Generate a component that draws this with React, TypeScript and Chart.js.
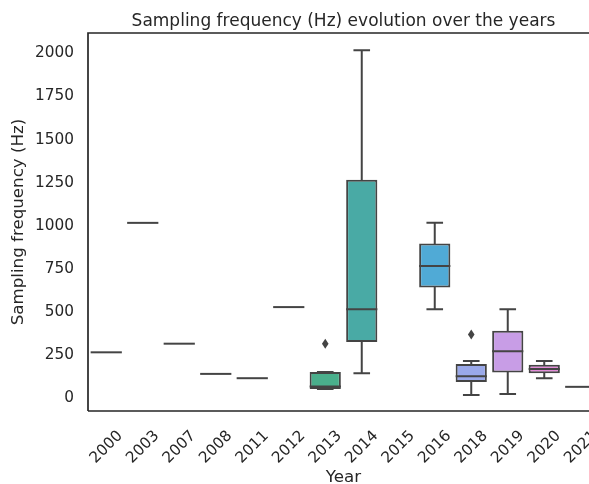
import { useEffect, useRef } from 'react';
import { Chart, registerables } from 'chart.js';

Chart.register(...registerables);

const years = ['2000', '2003', '2007', '2008', '2011', '2012', '2013', '2014', '2015', '2016', '2018', '2019', '2020', '2021'];
const whiskerLow: (number | null)[] = [250, 1000, 300, 125, 100, 512, 37, 128, null, 500, 3, 9, 100, 50];
const q1: (number | null)[] = [250, 1000, 300, 125, 100, 512, 37, 310, null, 625, 78, 133, 129, 50];
const median: (number | null)[] = [250, 1000, 300, 125, 100, 512, 52, 500, null, 750, 111, 256, 153, 50];
const q3: (number | null)[] = [250, 1000, 300, 125, 100, 512, 136, 1250, null, 880, 182, 375, 178, 50];
const whiskerHigh: (number | null)[] = [250, 1000, 300, 125, 100, 512, 136, 2000, null, 1000, 200, 500, 200, 50];
const outliers: number[][] = [[], [], [], [], [], [], [300], [], [], [], [353], [], [], []];
const yTickValues = [0, 250, 500, 750, 1000, 1250, 1500, 1750, 2000];
const boxColors = [
  '#e08a9a', '#dd9072', '#c79a52', '#aaa24f', '#8aa94f', '#55b06a', '#4aaf8c', '#49aaa5',
  '#4aa9bd', '#50aad6', '#9aa9e9', '#c89de6', '#e38bd8', '#e58ab4',
];

const GRAY = '#444444';
const TEXT = '#262626';
const FONT = "'DejaVu Sans', 'Liberation Sans', sans-serif";
const TITLE = 'Sampling frequency (Hz) evolution over the years';

const boxPlugin = {
  id: 'boxWhiskers',
  afterDatasetsDraw(chart: any) {
    const { ctx, scales } = chart;
    const x = scales.x;
    const y = scales.y;
    const step = x.getPixelForValue(1) - x.getPixelForValue(0);
    const w = step * 0.8;
    ctx.save();
    ctx.strokeStyle = GRAY;
    ctx.fillStyle = GRAY;
    ctx.lineWidth = 2;
    ctx.lineCap = 'square';
    years.forEach((_, i) => {
      const med = median[i];
      if (med == null) return;
      const cx = x.getPixelForValue(i);
      const lo = whiskerLow[i] as number;
      const hi = whiskerHigh[i] as number;
      const a = q1[i] as number;
      const b = q3[i] as number;
      ctx.beginPath();
      if (hi > b) {
        ctx.moveTo(cx, y.getPixelForValue(b));
        ctx.lineTo(cx, y.getPixelForValue(hi));
      }
      if (lo < a) {
        ctx.moveTo(cx, y.getPixelForValue(a));
        ctx.lineTo(cx, y.getPixelForValue(lo));
      }
      if (b > a) {
        ctx.moveTo(cx - w / 4, y.getPixelForValue(hi));
        ctx.lineTo(cx + w / 4, y.getPixelForValue(hi));
        ctx.moveTo(cx - w / 4, y.getPixelForValue(lo));
        ctx.lineTo(cx + w / 4, y.getPixelForValue(lo));
      }
      ctx.moveTo(cx - w / 2, y.getPixelForValue(med));
      ctx.lineTo(cx + w / 2, y.getPixelForValue(med));
      ctx.stroke();
      outliers[i].forEach((v) => {
        const py = y.getPixelForValue(v);
        ctx.beginPath();
        ctx.moveTo(cx, py - 5);
        ctx.lineTo(cx + 3.3, py);
        ctx.lineTo(cx, py + 5);
        ctx.lineTo(cx - 3.3, py);
        ctx.closePath();
        ctx.fill();
      });
    });
    ctx.restore();
  },
  afterDraw(chart: any) {
    const { ctx, chartArea } = chart;
    ctx.save();
    ctx.strokeStyle = TEXT;
    ctx.lineWidth = 1.7;
    ctx.beginPath();
    ctx.moveTo(chartArea.left, chartArea.bottom);
    ctx.lineTo(chartArea.left, chartArea.top);
    ctx.lineTo(chartArea.right, chartArea.top);
    ctx.moveTo(chartArea.left, chartArea.bottom);
    ctx.lineTo(chartArea.right, chartArea.bottom);
    ctx.stroke();
    ctx.fillStyle = TEXT;
    ctx.font = `17px ${FONT}`;
    ctx.textAlign = 'center';
    ctx.textBaseline = 'alphabetic';
    ctx.fillText(TITLE, (chartArea.left + chartArea.right) / 2, chartArea.top - 7.5);
    ctx.restore();
  },
};

export default function App() {
  const ref = useRef<HTMLCanvasElement | null>(null);
  useEffect(() => {
    document.documentElement.style.overflow = 'hidden';
    document.body.style.overflow = 'hidden';
    const canvas = ref.current;
    if (!canvas) return;
    const chart = new Chart(canvas, {
      type: 'bar',
      data: {
        labels: years,
        datasets: [
          {
            data: years.map((_, i) => (q1[i] == null ? null : [q1[i], q3[i]])) as any,
            backgroundColor: boxColors,
            borderColor: GRAY,
            borderWidth: 2,
            borderSkipped: false,
            barPercentage: 0.855,
            categoryPercentage: 1,
          },
        ],
      },
      options: {
        animation: false,
        responsive: false,
        devicePixelRatio: 1,
        layout: { padding: { left: 0, right: 21, top: 33, bottom: 0 } },
        plugins: {
          legend: { display: false },
          tooltip: { enabled: false },
          title: { display: false },
        },
        scales: {
          x: {
            type: 'category',
            offset: true,
            grid: { display: false, drawTicks: false },
            border: { display: false },
            ticks: {
              autoSkip: false,
              minRotation: 45,
              maxRotation: 45,
              color: TEXT,
              font: { family: FONT, size: 15.3 },
              padding: 16,
              labelOffset: 14,
            },
            title: {
              display: true,
              text: 'Year',
              color: TEXT,
              font: { family: FONT, size: 16.7 },
              padding: { top: 0, bottom: 6.5 },
            },
            afterFit: (scale: any) => {
              scale.height = 83;
            },
          },
          y: {
            type: 'linear',
            min: -90,
            max: 2100,
            grid: { display: false, drawTicks: false },
            border: { display: false },
            ticks: {
              color: TEXT,
              font: { family: FONT, size: 15.3 },
              padding: 14,
              labelOffset: 3,
              callback: (v: any) => String(v),
            },
            afterBuildTicks: (scale: any) => {
              scale.ticks = yTickValues.map((v) => ({ value: v }));
            },
            title: {
              display: true,
              text: 'Sampling frequency (Hz)',
              color: TEXT,
              font: { family: FONT, size: 16.7 },
              padding: { top: 9, bottom: 0 },
            },
            afterFit: (scale: any) => {
              scale.width = 88;
            },
          },
        },
      },
      plugins: [boxPlugin],
    });
    return () => chart.destroy();
  }, []);
  return (
    <div style={{ position: 'fixed', left: 0, top: 0, width: 620, height: 494 }}>
      <canvas ref={ref} width={620} height={494} style={{ width: 620, height: 494, display: 'block' }} />
    </div>
  );
}
